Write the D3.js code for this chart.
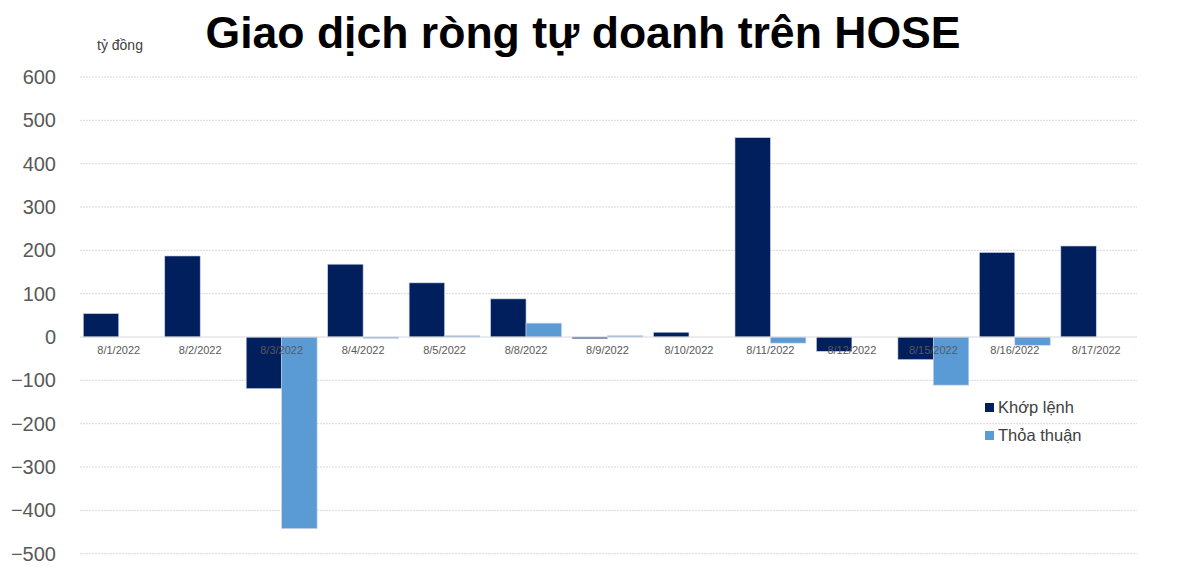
<!DOCTYPE html>
<html><head><meta charset="utf-8">
<script src="https://cdn.jsdelivr.net/npm/d3@7"></script>
<style>body{margin:0;background:#fff;}svg{display:block;}</style>
</head><body>
<svg id="chart" width="1200" height="575"></svg>
<script>
const categories = ["8/1/2022","8/2/2022","8/3/2022","8/4/2022","8/5/2022","8/8/2022","8/9/2022","8/10/2022","8/11/2022","8/12/2022","8/15/2022","8/16/2022","8/17/2022"];
const khopLenh = [54, 187, -119, 168, 125, 88, -4, 11, 460, -33, -52, 195, 210];
const thoaThuan = [0, 0, -442, -3, 3, 32, 3, 0, -14, 0, -111, -19, 0];
const seriesNames = ["Khớp lệnh", "Thỏa thuận"];
const yTicks = [600, 500, 400, 300, 200, 100, 0, -100, -200, -300, -400, -500];
const colors = ["#001f5c", "#5b9bd5"];

const svg = d3.select("#chart");
const x = d3.scaleBand().domain(categories).range([78, 1137]).paddingInner(0.13).paddingOuter(0.065);
const x1 = d3.scaleBand().domain(seriesNames).range([0, x.bandwidth()]);
const y = d3.scaleLinear().domain([-500, 600]).range([553.7, 77]);

// gridlines
svg.append("g").selectAll("line").data(yTicks.filter(d => d !== 0)).join("line")
  .attr("x1", 80).attr("x2", 1137)
  .attr("y1", d => y(d)).attr("y2", d => y(d))
  .attr("stroke", "#d9d9d9").attr("stroke-width", 1).attr("stroke-dasharray", "2,1");

// y labels
const yAxis = d3.axisLeft(y).tickValues(yTicks).tickSize(0).tickPadding(0);
const ga = svg.append("g").attr("transform", "translate(56,0)").call(yAxis);
ga.select(".domain").remove();
ga.selectAll("text").attr("font-family", "Liberation Sans, Arial, sans-serif").attr("font-size", 20).attr("fill", "#595959");

// bars
const data = categories.map((c, i) => ({c, vals: [khopLenh[i], thoaThuan[i]]}));
const groups = svg.append("g").selectAll("g").data(data).join("g")
  .attr("transform", d => `translate(${x(d.c)},0)`);
groups.selectAll("rect").data(d => d.vals.map((v, j) => ({v, s: seriesNames[j], j}))).join("rect")
  .attr("x", d => x1(d.s))
  .attr("width", x1.bandwidth())
  .attr("y", d => Math.min(y(d.v), y(0)))
  .attr("height", d => Math.abs(y(d.v) - y(0)))
  .attr("fill", d => colors[d.j])
  .attr("stroke", d => d.v === 0 ? "none" : "#c8d3e6").attr("stroke-width", 0.6);

// zero line
svg.append("line").attr("x1", 80).attr("x2", 1137).attr("y1", y(0)).attr("y2", y(0))
  .attr("stroke", "#d9d9d9").attr("stroke-width", 1.2);

// x labels
const xAxis = d3.axisBottom(x).tickSize(0).tickPadding(0);
const gx = svg.append("g").attr("transform", `translate(0,${y(0) + 9})`).call(xAxis);
gx.select(".domain").remove();
gx.selectAll("text").attr("font-family", "Liberation Sans, Arial, sans-serif").attr("font-size", 11).attr("fill", "#595959");

// title
svg.append("text").attr("x", 583).attr("y", 48).attr("text-anchor", "middle")
  .attr("font-family", "Liberation Sans, Arial, sans-serif").attr("font-weight", "bold")
  .attr("font-size", 44).attr("textLength", 755).attr("lengthAdjust", "spacingAndGlyphs")
  .attr("fill", "#000").text("Giao dịch ròng tự doanh trên HOSE");

// unit label
svg.append("text").attr("x", 97).attr("y", 50)
  .attr("font-family", "Liberation Sans, Arial, sans-serif").attr("font-size", 14).attr("fill", "#404040")
  .text("tỷ đồng");

// legend
const lg = svg.append("g").selectAll("g").data(seriesNames).join("g")
  .attr("transform", (d, i) => `translate(985,${407 + i * 28})`);
lg.append("rect").attr("x", 0).attr("y", -4).attr("width", 9).attr("height", 9).attr("fill", (d, i) => colors[i]);
lg.append("text").attr("x", 13).attr("y", 6)
  .attr("font-family", "Liberation Sans, Arial, sans-serif").attr("font-size", 16.5).attr("fill", "#404040")
  .text(d => d);
</script>
</body></html>
